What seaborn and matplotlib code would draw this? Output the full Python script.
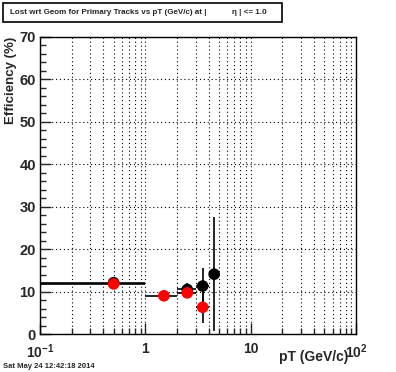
import numpy as np
import pandas as pd
import matplotlib
matplotlib.use("Agg")
import matplotlib.pyplot as plt
import matplotlib.ticker as mticker
from matplotlib.patches import Rectangle
import seaborn as sns

# ---- data ----
black_pt = [0.5, 2.5, 3.5, 4.5]
black_xerr = [0.5, 0.5, 0.5, 0.5]
black_eff = [12.1, 10.5, 11.3, 14.1]
black_err = [0.3, 1.6, 4.2, 13.4]

red_pt = [0.5, 1.5, 2.5, 3.5]
red_xerr = [0.5, 0.5, 0.5, 0.5]
red_eff = [11.8, 9.0, 9.7, 6.3]
red_err = [0.3, 0.4, 1.2, 3.6]

y_ticks = [0, 10, 20, 30, 40, 50, 60, 70]
x_ticks = [0.1, 1, 10, 100]
x_tick_labels = [r"$\mathbf{10^{-1}}$", "1", "10", r"$\mathbf{10^{2}}$"]

title_left = "Lost wrt Geom for Primary Tracks vs pT (GeV/c) at |"
title_right = "η | <= 1.0"
date_text = "Sat May 24 12:42:18 2014"

sns.set_style("white")
plt.rcParams["font.family"] = ["Liberation Sans", "DejaVu Sans"]
plt.rcParams["mathtext.fontset"] = "custom"
plt.rcParams["mathtext.bf"] = "Liberation Sans:bold"
plt.rcParams["mathtext.rm"] = "Liberation Sans"

fig = plt.figure(figsize=(3.96, 3.72), dpi=100)
W, H = 396, 372
ax = fig.add_axes([40 / W, 1 - 334 / H, 316 / W, 297 / H])

dfb = pd.DataFrame({"pt": black_pt, "eff": black_eff})
dfr = pd.DataFrame({"pt": red_pt, "eff": red_eff})

ax.errorbar(black_pt, black_eff, xerr=black_xerr, yerr=black_err, fmt="none",
            ecolor="black", elinewidth=1.2, capsize=0, zorder=2)
sns.scatterplot(data=dfb, x="pt", y="eff", ax=ax, color="black", s=70,
                edgecolor="none", zorder=3, legend=False)
ax.errorbar(red_pt, red_eff, xerr=red_xerr, yerr=red_err, fmt="none",
            ecolor="black", elinewidth=1.2, capsize=0, zorder=4)
sns.scatterplot(data=dfr, x="pt", y="eff", ax=ax, color="#ff0000", s=70,
                edgecolor="none", zorder=5, legend=False)

ax.set_xscale("log")
ax.set_xlim(0.1, 100)
ax.set_ylim(0, 70)

ax.xaxis.set_major_locator(mticker.FixedLocator(x_ticks))
ax.xaxis.set_major_formatter(mticker.FixedFormatter(x_tick_labels))
ax.xaxis.set_minor_locator(mticker.LogLocator(base=10, subs=np.arange(2, 10)))
ax.xaxis.set_minor_formatter(mticker.NullFormatter())
ax.set_yticks(y_ticks)
ax.yaxis.set_minor_locator(mticker.MultipleLocator(2))

ax.grid(True, which="both", axis="x", linestyle=(0, (1, 2.5)), color="black", linewidth=0.8)
ax.grid(True, which="major", axis="y", linestyle=(0, (1, 2.5)), color="black", linewidth=0.8)

ax.tick_params(axis="both", which="major", direction="in", length=8, width=1,
               bottom=True, left=True, top=False, right=False)
ax.tick_params(axis="both", which="minor", direction="in", length=4, width=1,
               bottom=True, left=True, top=False, right=False)
ax.tick_params(axis="y", labelsize=10.5, pad=3)
ax.tick_params(axis="x", labelsize=10, pad=6)
for lab in ax.get_xticklabels() + ax.get_yticklabels():
    lab.set_fontweight("bold")

for sp in ax.spines.values():
    sp.set_color("black")
    sp.set_linewidth(1)

ax.set_xlabel("pT (GeV/c)", fontsize=10, fontweight="bold")
ax.xaxis.set_label_coords(0.975, -0.055)
ax.xaxis.label.set_ha("right")
ax.xaxis.label.set_va("top")
ax.set_ylabel("Efficiency (%)", fontsize=9.5, fontweight="bold")
ax.yaxis.set_label_coords(-0.092, 1.0)
ax.yaxis.label.set_ha("right")
ax.yaxis.label.set_va("center")

# title box
fig.patches.append(Rectangle((3 / W, 1 - 22 / H), 279 / W, 19 / H, transform=fig.transFigure,
                             facecolor="white", edgecolor="black", linewidth=1.2))
fig.text(10 / W, 1 - 12.5 / H, title_left, fontsize=5.8, fontweight="bold", va="center", ha="left")
fig.text(232 / W, 1 - 12.5 / H, title_right, fontsize=5.8, fontweight="bold", va="center", ha="left")
fig.text(3 / W, 1 - 366 / H, date_text, fontsize=5.5, fontweight="bold", va="center", ha="left")

fig.savefig("out.png", dpi=100, facecolor="white")
